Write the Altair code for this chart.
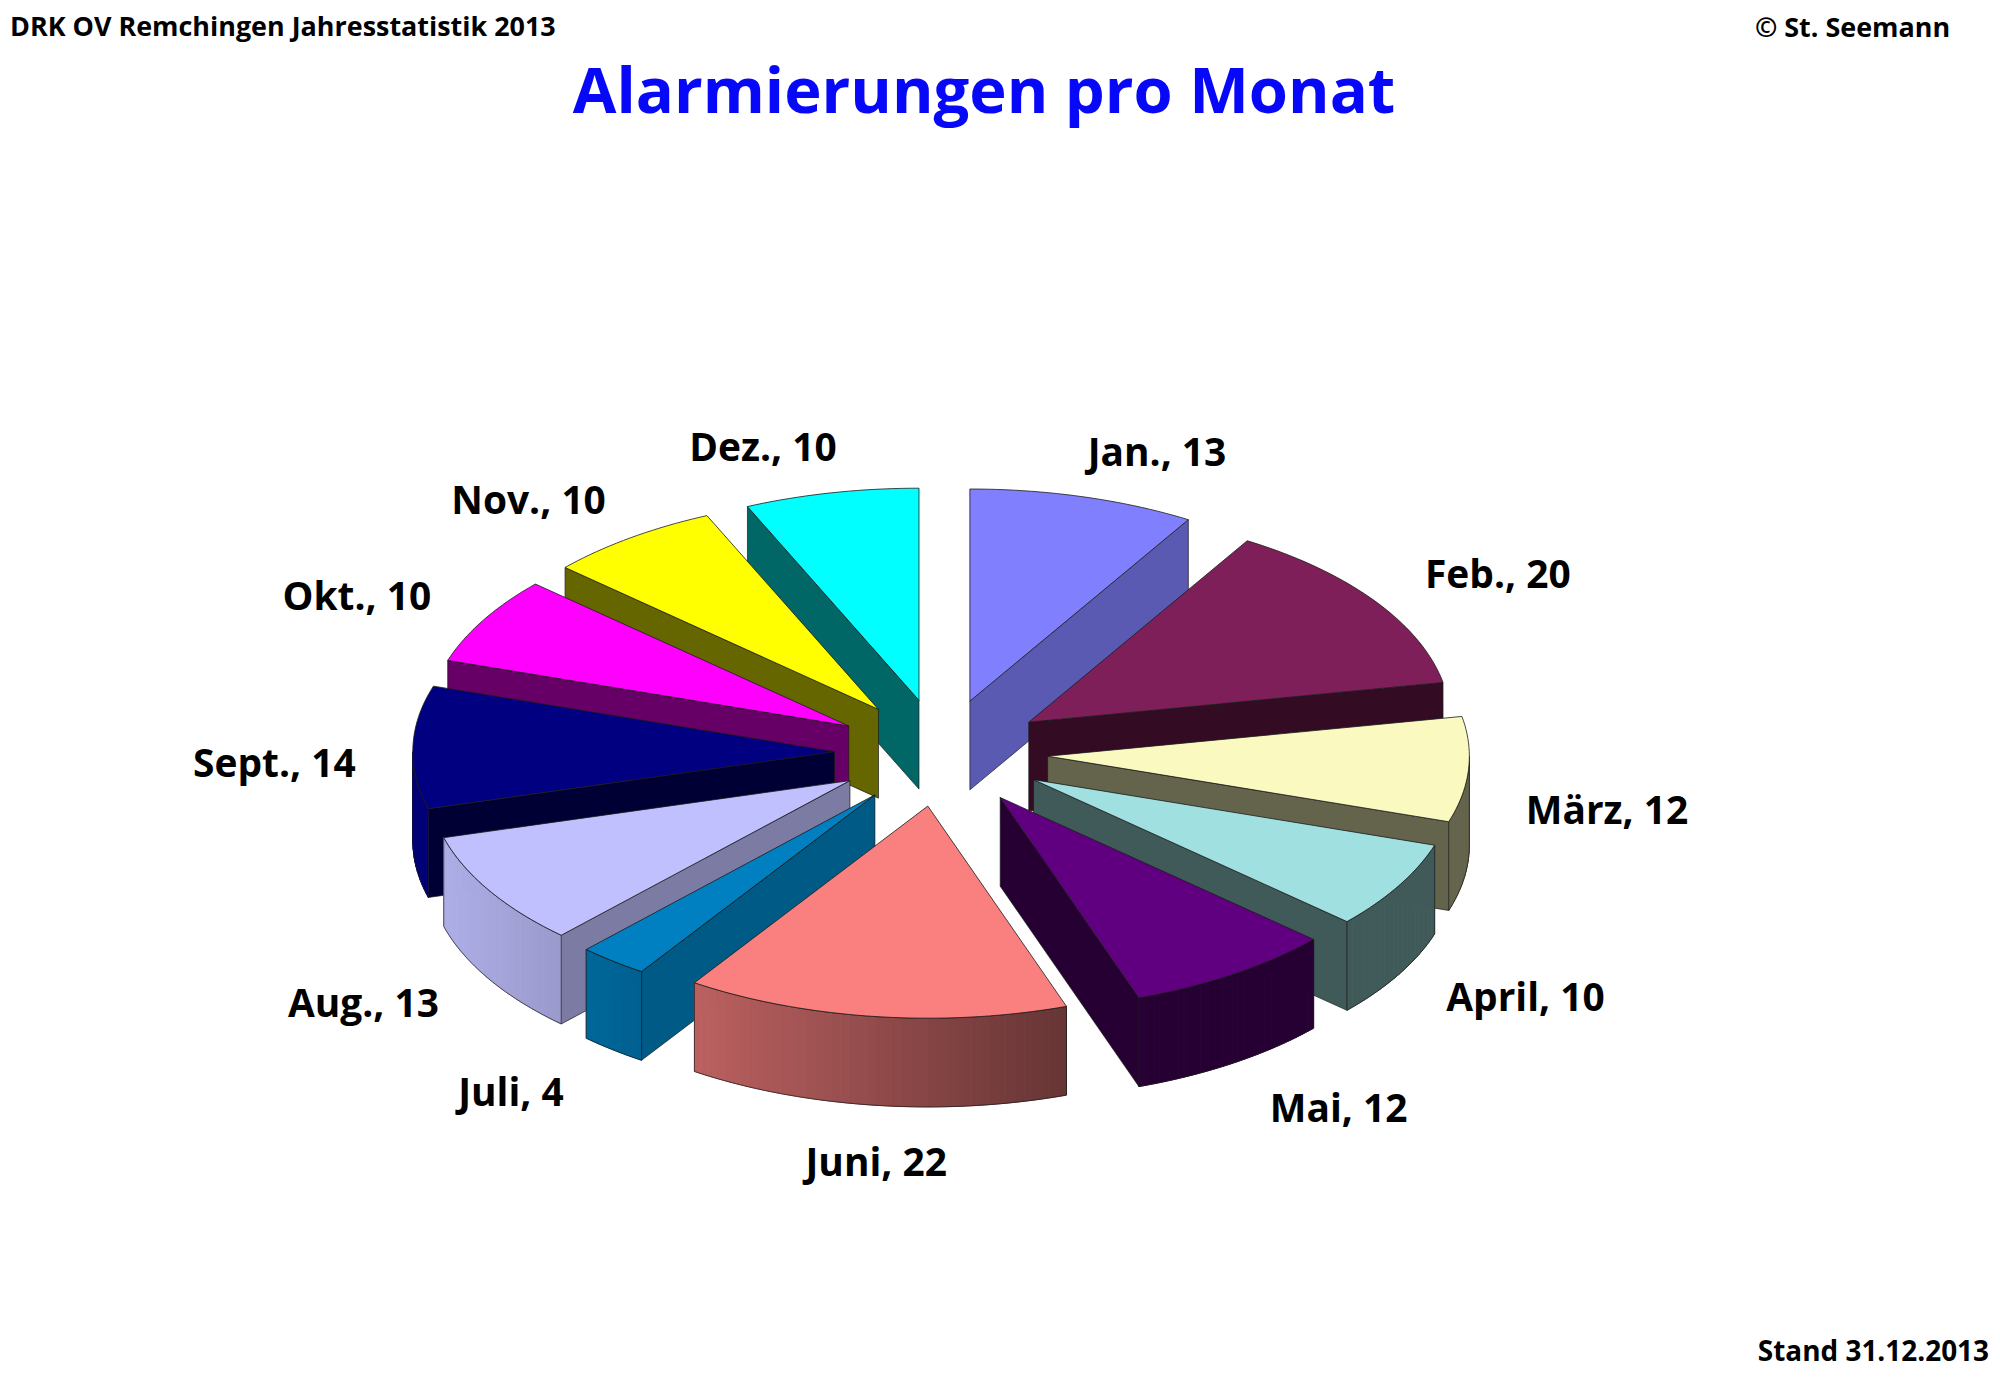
import math
import pandas as pd
import altair as alt

# ---------------- data ----------------
months = ["Jan.", "Feb.", "März", "April", "Mai", "Juni",
          "Juli", "Aug.", "Sept.", "Okt.", "Nov.", "Dez."]
counts = [13, 20, 12, 10, 12, 22, 4, 13, 14, 10, 10, 10]
slice_colors = ["#8080FF", "#7F1F5A", "#FAFAC0", "#A0E0E0", "#600080", "#FA8080",
                "#0080C0", "#C0C0FF", "#000080", "#FF00FF", "#FFFF00", "#00FFFF"]
title_text = "Alarmierungen pro Monat"
header_left = "DRK OV Remchingen Jahresstatistik 2013"
header_right = "© St. Seemann"
footer_text = "Stand 31.12.2013"

# ---------------- layout / style ----------------
W, H = 1990, 1366            # chart size in px (page coords minus 8px margin)
CX, CY = 936.0, 745.0        # pie centre
R = 423.0                    # pie radius (horizontal)
TILT = 0.503                 # vertical squash of the tilted pie
EXPLODE = 107.0              # slice explosion distance
DEPTH = 89.0                 # thickness of the pie
LAB_A, LAB_B, LAB_D = 619.0, 50.0, 55.0      # label placement (horizontal)
LAB_UP, LAB_DN, LAB_E = 311.0, 337.0, 78.0   # label placement (vertical)
FONT = "Open Sans"
EDGE = "#1a1a1a"


def unit(a):
    r = math.radians(a)
    return math.sin(r), math.cos(r)


def clip(v, lo, hi):
    return min(hi, max(lo, v))


def scr(px, py, drop=0.0):
    return (CX + px, CY - py * TILT + drop)


def shade(c, f):
    r, g, b = (int(c[i:i + 2], 16) for i in (1, 3, 5))
    return "#{:02x}{:02x}{:02x}".format(*(min(255, int(round(v * f))) for v in (r, g, b)))


def rad_shade(normal):
    n = normal % 360
    return 0.4 + 0.3 * clip((165 - n) / 40, 0.0, 1.0)


def rim_shade(a):
    s, _ = unit(a)
    return 0.4 + 0.55 * clip(-s * 0.7 + 0.25, 0.0, 1.0)


total = sum(counts)
slices = []
cum = 0
for i, v in enumerate(counts):
    s = 360.0 * cum / total
    e = 360.0 * (cum + v) / total
    cum += v
    slices.append((i, s, e))

# painter's order: back slices first
paint = sorted(slices, key=lambda t: -math.cos(math.radians((t[1] + t[2]) / 2)))

polys = []  # (points, fill, stroke, strokeWidth)
for i, s, e in paint:
    m = (s + e) / 2
    col = slice_colors[i]
    ux, uy = unit(m)
    tx, ty = EXPLODE * ux, EXPLODE * uy
    n = max(2, int(math.ceil((e - s) / 1.2)))
    angs = [s + (e - s) * j / n for j in range(n + 1)]
    rim = [(tx + R * unit(a)[0], ty + R * unit(a)[1]) for a in angs]
    tip_top = scr(tx, ty)
    tip_bot = scr(tx, ty, DEPTH)
    rim_top = [scr(*p) for p in rim]
    rim_bot = [scr(*p, DEPTH) for p in rim]
    if math.sin(math.radians(s)) < -1e-6:
        polys.append(([tip_top, rim_top[0], rim_bot[0], tip_bot],
                      shade(col, rad_shade(s - 90)), EDGE, 0.7))
    if math.sin(math.radians(e)) > 1e-6:
        polys.append(([tip_top, rim_top[-1], rim_bot[-1], tip_bot],
                      shade(col, rad_shade(e + 90)), EDGE, 0.7))
    vis = [j for j in range(n) if math.cos(math.radians((angs[j] + angs[j + 1]) / 2)) < 0]
    for j in vis:
        f = shade(col, rim_shade((angs[j] + angs[j + 1]) / 2))
        polys.append(([rim_top[j], rim_top[j + 1], rim_bot[j + 1], rim_bot[j]], f, f, 1.0))
    if vis:
        j0, j1 = vis[0], vis[-1] + 1
        outline = rim_top[j0:j1 + 1] + rim_bot[j0:j1 + 1][::-1]
        polys.append((outline, "transparent", EDGE, 0.7))
    polys.append(([tip_top] + rim_top, col, EDGE, 0.8))

rows = []
for k, (pts, f, st, sw) in enumerate(polys):
    gid = "g{:04d}".format(k)
    for o, (x, y) in enumerate(pts):
        rows.append({"gid": gid, "o": o, "x": x, "y": y, "fill": f, "stroke": st, "sw": sw})
poly_df = pd.DataFrame(rows)

lab_rows = []
for i, s, e in slices:
    m = (s + e) / 2
    sx, cy = unit(m)
    ky = LAB_UP if cy > 0 else LAB_DN
    lab_rows.append({
        "x": CX + LAB_A * sx + LAB_B * clip(6 * sx, -1.0, 1.0) + LAB_D * max(0.0, -cy) ** 12,
        "y": CY - ky * cy + LAB_E * clip(-3 * cy + 0.3, 0.0, 1.0),
        "t": "{}, {}".format(months[i], counts[i]),
    })
lab_df = pd.DataFrame(lab_rows)

xs = alt.Scale(domain=[0, W], nice=False, zero=False)
ys = alt.Scale(domain=[0, H], nice=False, zero=False, reverse=True)

pie = alt.Chart(poly_df).mark_line(interpolate="linear-closed", strokeJoin="round").encode(
    x=alt.X("x:Q", scale=xs, axis=None),
    y=alt.Y("y:Q", scale=ys, axis=None),
    detail="gid:N",
    order="o:Q",
    fill=alt.Fill("fill:N", scale=None, legend=None),
    stroke=alt.Stroke("stroke:N", scale=None, legend=None),
    strokeWidth=alt.StrokeWidth("sw:Q", scale=None, legend=None),
)

labels = alt.Chart(lab_df).mark_text(
    font=FONT, fontSize=39, fontWeight="bold", color="#000000", baseline="middle", align="center"
).encode(
    x=alt.X("x:Q", scale=xs, axis=None),
    y=alt.Y("y:Q", scale=ys, axis=None),
    text="t:N",
)


def note(txt, x, y, size, align, color="#000000", baseline="alphabetic"):
    return alt.Chart(pd.DataFrame({"t": [txt]})).mark_text(
        font=FONT, fontSize=size, fontWeight="bold", color=color, align=align, baseline=baseline
    ).encode(x=alt.value(x), y=alt.value(y), text="t:N")


title = note(title_text, 979, 103, 63.5, "center", color="#0808F8")
hl = note(header_left, 2, 26, 27, "left")
hr = note(header_right, 1948, 27, 27, "right")
ft = note(footer_text, 1987, 1355, 28, "right")

chart = alt.layer(pie, labels, title, hl, hr, ft).properties(
    width=W, height=H, padding=0,
    autosize=alt.AutoSizeParams(type="none"),
    background="white",
).configure_view(strokeWidth=0)

chart.save("out.html", embed_options={"renderer": "svg", "actions": False})
